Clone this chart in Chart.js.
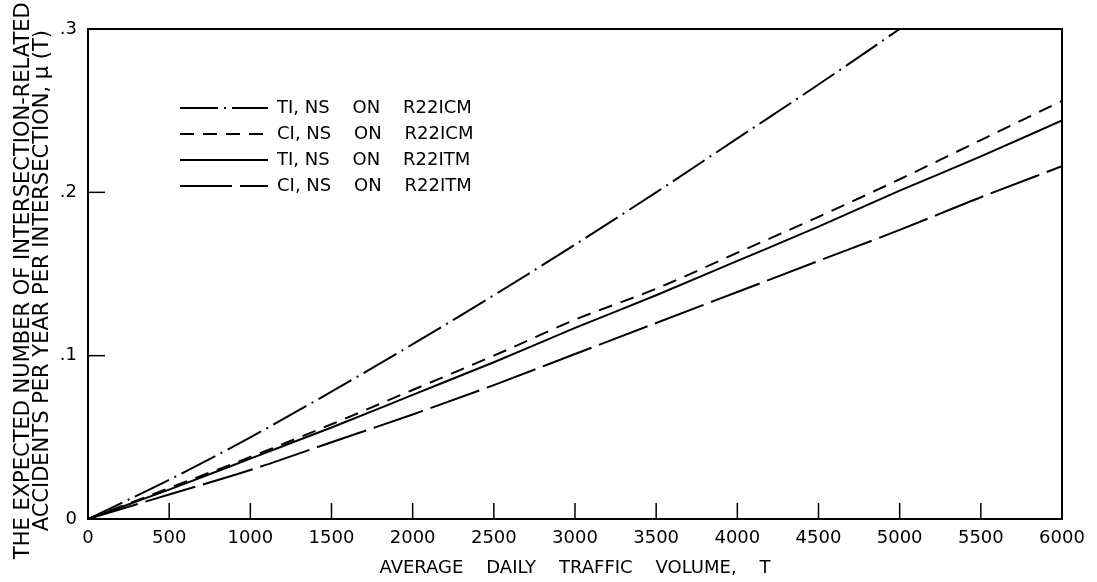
<!DOCTYPE html>
<html>
<head>
<meta charset="utf-8">
<script src="https://cdn.jsdelivr.net/npm/chart.js@4/dist/chart.umd.min.js"></script>
<style>
	body { margin: 0; background: #fff; }
	#wrap { width: 1097px; height: 582px; }
</style>
</head>
<body>
<div id="wrap"><canvas id="myChart"></canvas></div>
<script>
	// values
	const xValues = [0, 500, 1000, 1500, 2000, 2500, 3000, 3500, 4000, 4500, 5000, 5500, 6000];
	const xTickLabels = ['0', '500', '1000', '1500', '2000', '2500', '3000', '3500', '4000', '4500', '5000', '5500', '6000'];
	const yTickLabels = ['0', '.1', '.2', '.3'];

	const seriesLabels = [
		'TI, NS    ON    R22ICM',
		'CI, NS    ON    R22ICM',
		'TI, NS    ON    R22ITM',
		'CI, NS    ON    R22ITM'
	];

	const tiIcm = [0, 0.024, 0.050, 0.078, 0.107, 0.137, 0.168, 0.200, 0.233, 0.266, 0.300]; // leaves the frame at 5000
	const ciIcm = [0, 0.019, 0.038, 0.058, 0.079, 0.100, 0.122, 0.141, 0.163, 0.185, 0.208, 0.232, 0.256];
	const tiItm = [0, 0.018, 0.037, 0.056, 0.076, 0.096, 0.117, 0.137, 0.158, 0.179, 0.201, 0.222, 0.244];
	const ciItm = [0, 0.015, 0.030, 0.047, 0.064, 0.082, 0.101, 0.120, 0.139, 0.158, 0.177, 0.197, 0.216];

	const dashes = [[38, 6, 2, 6], [14, 9], [], [52, 8]];

	function toPoints(arr) {
		return arr.map((v, i) => ({ x: xValues[i], y: v }));
	}

	// frame + inward tick marks, and legend placed inside the plot
	const framePlugin = {
		id: 'framePlugin',
		afterLayout(chart) {
			const lg = chart.legend;
			if (!lg) return;
			const w = lg.width, h = lg.height;
			lg.left = 172; lg.top = 91;
			lg.right = lg.left + w; lg.bottom = lg.top + h;
		},
		afterDraw(chart) {
			const { ctx, chartArea: a, scales } = chart;
			ctx.save();
			ctx.strokeStyle = '#000';
			ctx.lineWidth = 2;
			ctx.strokeRect(a.left, a.top, a.right - a.left, a.bottom - a.top);
			ctx.lineWidth = 1.5;
			scales.x.ticks.forEach(t => {
				if (t.value <= 0 || t.value >= 6000) return;
				const px = scales.x.getPixelForValue(t.value);
				ctx.beginPath();
				ctx.moveTo(px, a.bottom);
				ctx.lineTo(px, a.bottom - 16);
				ctx.stroke();
			});
			scales.y.ticks.forEach(t => {
				if (t.value <= 0 || t.value >= 0.3) return;
				const py = scales.y.getPixelForValue(t.value);
				ctx.beginPath();
				ctx.moveTo(a.left, py);
				ctx.lineTo(a.left + 17, py);
				ctx.stroke();
			});
			ctx.restore();
		}
	};

	window.onload = () => {
		const ctx = document.getElementById('myChart').getContext('2d');
		const series = [tiIcm, ciIcm, tiItm, ciItm];

		new Chart(ctx, {
			type: 'line',
			data: {
				datasets: series.map((s, i) => ({
					label: seriesLabels[i],
					data: toPoints(s),
					borderColor: '#000',
					backgroundColor: '#000',
					borderWidth: 2,
					borderDash: dashes[i],
					pointRadius: 0,
					fill: false,
					cubicInterpolationMode: 'monotone'
				}))
			},
			options: {
				responsive: true,
				maintainAspectRatio: false,
				animation: false,
				layout: { padding: { top: 29, right: 35, left: 0, bottom: 0 } },
				font: { family: 'DejaVu Sans' },
				scales: {
					x: {
						type: 'linear',
						min: 0,
						max: 6000,
						grid: { display: false, drawTicks: false },
						border: { display: false },
						afterFit(scale) { scale.height = 63; },
						ticks: {
							stepSize: 500,
							autoSkip: false,
							maxRotation: 0,
							padding: 9,
							color: '#000',
							font: { family: 'DejaVu Sans', size: 18 },
							callback: (value, index) => xTickLabels[index]
						},
						title: {
							display: true,
							text: 'AVERAGE    DAILY    TRAFFIC    VOLUME,    T',
							color: '#000',
							font: { family: 'DejaVu Sans', size: 18 },
							padding: { top: 0, bottom: 3 }
						}
					},
					y: {
						type: 'linear',
						min: 0,
						max: 0.3,
						grid: { display: false, drawTicks: false },
						border: { display: false },
						afterFit(scale) { scale.width = 88; },
						ticks: {
							stepSize: 0.1,
							padding: 11,
							color: '#000',
							font: { family: 'DejaVu Sans', size: 18 },
							callback: (value, index) => yTickLabels[index]
						},
						title: {
							display: true,
							text: ['THE EXPECTED NUMBER OF INTERSECTION-RELATED  ', 'ACCIDENTS PER YEAR PER INTERSECTION, \u03bc (T)  '],
							color: '#000',
							font: { family: 'DejaVu Sans', size: 21, lineHeight: 0.86 },
							padding: { top: 15, bottom: 0 }
						}
					}
				},
				plugins: {
					legend: {
						position: 'chartArea',
						align: 'start',
						labels: {
							usePointStyle: true,
							pointStyle: 'line',
							pointStyleWidth: 88,
							padding: 8,
							color: '#000',
							font: { family: 'DejaVu Sans', size: 18 },
							// keep each dataset's dash pattern on its legend line
							generateLabels(chart) {
								const items = Chart.defaults.plugins.legend.labels.generateLabels(chart);
								return items.map(item => ({
									...item,
									lineDash: chart.data.datasets[item.datasetIndex].borderDash,
									lineWidth: 2,
									strokeStyle: '#000'
								}));
							}
						}
					},
					tooltip: { enabled: false }
				}
			},
			plugins: [framePlugin]
		});
	};
</script>
</body>
</html>
